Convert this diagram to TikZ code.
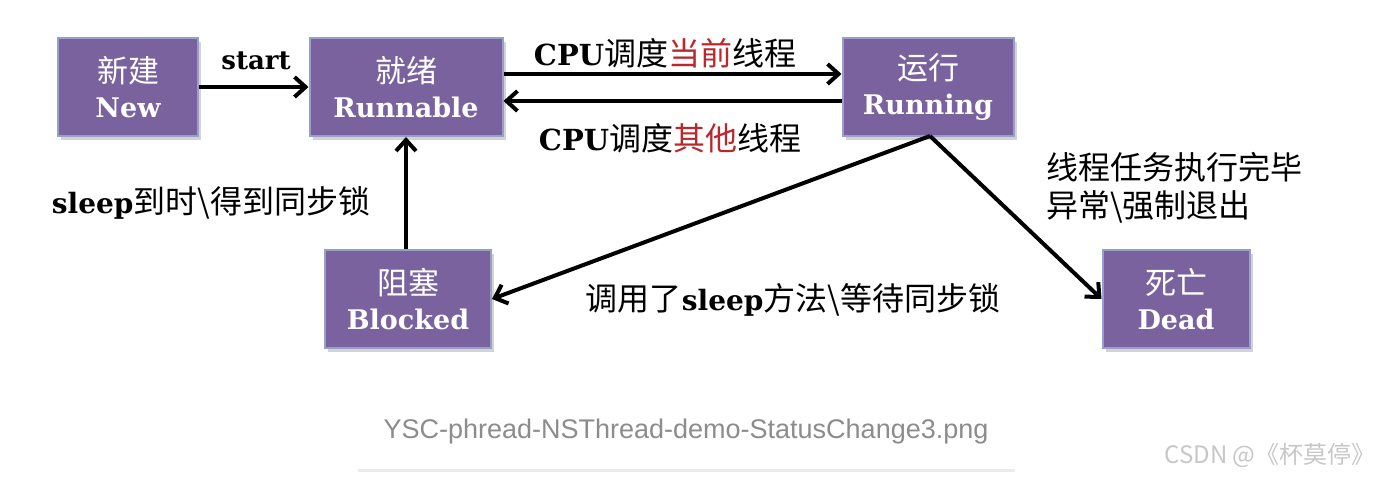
\documentclass[tikz,border=0pt]{standalone}
\usepackage{fontspec}
\setmainfont{Noto Sans CJK SC}
\newfontfamily\slab{DejaVu Serif}
\newfontfamily\capfont{Liberation Sans}
\usetikzlibrary{arrows.meta,shadows}
\definecolor{boxfill}{RGB}{122,98,158}
\definecolor{boxline}{RGB}{150,160,200}
\definecolor{hl}{RGB}{185,40,45}
\begin{document}
\begin{tikzpicture}[x=0.5pt,y=-0.5pt,
  state/.style={draw=boxline, line width=1pt, fill=boxfill, text=white,
    minimum height=49pt, inner sep=0pt, align=center,
    drop shadow={shadow xshift=1.5pt, shadow yshift=-2pt, opacity=0.35}},
  arr/.style={line width=2pt, -{Straight Barb[length=5.5pt,width=10pt,line width=2pt]}},
  lbl/.style={font=\fontsize{16}{19}\selectfont, text=black, inner sep=0pt}
]
\useasboundingbox (0,0) rectangle (1400,480);
\newcommand{\st}[2]{{\fontsize{15.5}{19}\selectfont #1}\\[5.5pt]{\slab\bfseries\fontsize{13.5}{19}\selectfont #2}}
\node[state, minimum width=70pt] (New) at (128,87) {\st{新建}{New}};
\node[state, minimum width=96.5pt] (Runnable) at (406,87) {\st{就绪}{Runnable}};
\node[state, minimum width=85.5pt] (Running) at (928,87) {\st{运行}{Running}};
\node[state, minimum width=83pt] (Blocked) at (408,299) {\st{阻塞}{Blocked}};
\node[state, minimum width=73.5pt] (Dead) at (1176,299) {\st{死亡}{Dead}};

\draw[arr] (New) -- (Runnable);
\draw[arr] ([yshift=6.5pt]Runnable.east) -- ([yshift=6.5pt]Running.west);
\draw[arr] ([yshift=-7pt]Running.west) -- ([yshift=-7pt]Runnable.east);
\draw[arr] (Blocked.north -| Runnable.south) -- (Runnable.south);
\coordinate (rb) at ([xshift=1pt,yshift=0.5pt]Running.south);
\draw[arr, line join=miter] (rb) -- (Blocked.east);
\draw[arr] (rb) -- (Dead.west);

\node[lbl] (lstart) at (256,61) {{\slab\bfseries\fontsize{13}{16}\selectfont start}};
\node[lbl] (lcpu1) at (665,53) {{\slab\bfseries\fontsize{14.5}{16}\selectfont CPU}调度\textcolor{hl}{当前}线程};
\node[lbl] (lcpu2) at (670,138) {{\slab\bfseries\fontsize{14.5}{16}\selectfont CPU}调度\textcolor{hl}{其他}线程};
\node[lbl] (lsleep) at (211,203) {{\slab\bfseries\fontsize{14}{16}\selectfont sleep}到时\textbackslash 得到同步锁};
\node[lbl] (lcall) at (793,300) {调用了{\slab\bfseries\fontsize{14}{16}\selectfont sleep}方法\textbackslash 等待同步锁};
\node[lbl, anchor=west, align=left] (ldead) at (1046,188) {线程任务执行完毕\\[0pt]异常\textbackslash 强制退出};

\node[inner sep=0pt, text=black!45, font=\capfont\fontsize{13.5}{16}\selectfont] (cap) at (686,432) {YSC-phread-NSThread-demo-StatusChange3.png};
\draw[black!8, line width=1.5pt] (358,470) -- (1015,470);
\node[inner sep=0pt, text=black!22, font=\fontsize{12}{14}\selectfont] (wm) at (1270,455) {CSDN @《杯莫停》};
\end{tikzpicture}
\end{document}
